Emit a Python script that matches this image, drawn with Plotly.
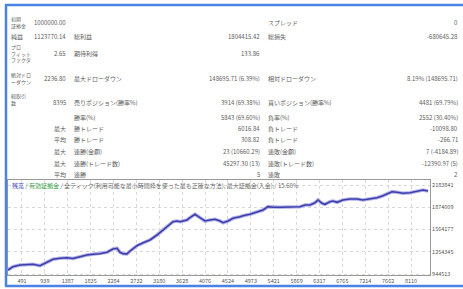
import plotly.graph_objects as go

W, H = 463, 289

# ---- data ----
trade_no = [217, 315, 452, 589, 707, 844, 981, 1098, 1235, 1372,
            1490, 1627, 1764, 1882, 2019, 2156, 2273, 2352, 2411, 2469,
            2548, 2606, 2743, 2861, 2998, 3135, 3253, 3390, 3449, 3527,
            3586, 3644, 3723, 3781, 3879, 3977, 4075, 4173, 4271, 4369,
            4428, 4526, 4624, 4761, 4819, 4957, 5094, 5211, 5309, 5407,
            5544, 5681, 5799, 5936, 6034, 6132, 6230, 6289, 6367, 6425,
            6523, 6582, 6660, 6778, 6915, 7052, 7170, 7307, 7444, 7561,
            7659, 7738, 7835, 7953, 8090, 8227, 8345, 8443]
balance = [1000000, 1046166, 1069838, 1079586, 1081000, 1060091, 1107436, 1149211, 1163136, 1171491,
           1160000, 1185416, 1209088, 1218836, 1227191, 1246686, 1292638, 1302386, 1246686, 1227191,
           1225000, 1264788, 1338591, 1380366, 1417963, 1487588, 1557213, 1636586, 1672791, 1682538,
           1672791, 1682538, 1696463, 1728491, 1775836, 1728491, 1682538, 1696463, 1706211, 1682538,
           1658866, 1682538, 1720136, 1742416, 1756341, 1775836, 1803686, 1835713, 1881666, 1873311,
           1873311, 1877488, 1881666, 1881666, 1905338, 1905338, 1937366, 1974963, 1929011, 1915086,
           1951291, 1961038, 1942936, 1974963, 1988888, 1988888, 1974963, 1988888, 2006991, 2034841,
           2068261, 2090541, 2082186, 2068261, 2076616, 2100288, 2114213, 2100288]

x_ticks = [491, 939, 1387, 1835, 2284, 2732, 3180, 3628, 4076, 4524,
           4973, 5421, 5869, 6317, 6765, 7214, 7662, 8110]
y_ticks = [944513, 1254345, 1564177, 1874009, 2183841]
x_range = [217, 8482]
y_range = [930588, 2253466]

# report table: (row y, text, column)
report_rows = [
    (22, "1000000.00", "v1"), (22, "スプレッド", "l2"), (22, "0", "v3"),
    (37, "純益", "l0"), (37, "1123770.14", "v1"), (37, "総利益", "l1"),
    (37, "1804415.42", "v2"), (37, "総損失", "l2"), (37, "-680645.28", "v3"),
    (53, "2.65", "v1"), (53, "期待利得", "l1"), (53, "133.86", "v2"),
    (78, "2236.80", "v1"), (78, "最大ドローダウン", "l1"),
    (78, "148695.71 (6.39%)", "v2"), (78, "相対ドローダウン", "l2"), (78, "8.19% (148695.71)", "v3"),
    (102, "8395", "v1"), (102, "売りポジション(勝率%)", "l1"), (102, "3914 (69.38%)", "v2"),
    (102, "買いポジション(勝率%)", "l2"), (102, "4481 (69.79%)", "v3"),
    (117, "勝率(%)", "l1"), (117, "5843 (69.60%)", "v2"), (117, "負率(%)", "l2"), (117, "2552 (30.40%)", "v3"),
    (128, "最大", "v1"), (128, "勝トレード", "l1"), (128, "6016.84", "v2"), (128, "負トレード", "l2"), (128, "-10098.80", "v3"),
    (139, "平均", "v1"), (139, "勝トレード", "l1"), (139, "308.82", "v2"), (139, "負トレード", "l2"), (139, "-266.71", "v3"),
    (151, "最大", "v1"), (151, "連勝(金額)", "l1"), (151, "23 (10660.29)", "v2"), (151, "連敗(金額)", "l2"), (151, "7 (-4184.89)", "v3"),
    (163, "最大", "v1"), (163, "連勝(トレード数)", "l1"), (163, "45297.30 (13)", "v2"), (163, "連敗(トレード数)", "l2"), (163, "-12390.97 (5)", "v3"),
    (174, "平均", "v1"), (174, "連勝", "l1"), (174, "5", "v2"), (174, "連敗", "l2"), (174, "2", "v3"),
]
stacked_labels = [(22, "初期<br>証拠金"), (53, "プロ<br>フィット<br>ファクタ"),
                  (78, "絶対ドロ<br>ーダウン"), (100, "総取引<br>数")]

legend_text = ('<span style="color:#3a48c8">残高</span> / '
               '<span style="color:#3aa04a">有効証拠金</span> / '
               '全ティック(利用可能な最小時間枠を使った最も正確な方法), 最大証拠金(入金) / 15.60%')

FONT = "Noto Sans CJK JP"
col_x = {"l0": (9, "left"), "v1": (68, "right"), "l1": (72, "left"),
         "v2": (262, "right"), "l2": (266, "left"), "v3": (460, "right")}

fig = go.Figure()
fig.add_trace(go.Scatter(x=trade_no, y=balance, mode="lines", name="有効証拠金",
                         line=dict(color="#b4b4e8", width=3.6), hoverinfo="skip"))
fig.add_trace(go.Scatter(x=trade_no, y=balance, mode="lines", name="残高",
                         line=dict(color="#3d3dab", width=1.6)))

annotations = []
for y, t, c in report_rows:
    xx, anc = col_x[c]
    annotations.append(dict(x=xx / W, y=1 - y / H, xref="paper", yref="paper", text=t,
                            xanchor=anc, yanchor="middle", showarrow=False,
                            font=dict(family=FONT, size=6, color="#606060")))
for y, t in stacked_labels:
    annotations.append(dict(x=9 / W, y=1 - y / H, xref="paper", yref="paper", text=t,
                            xanchor="left", yanchor="middle", align="left", showarrow=False,
                            font=dict(family=FONT, size=5, color="#606060")))
annotations.append(dict(x=10 / W, y=1 - 185.5 / H, xref="paper", yref="paper", text=legend_text,
                        xanchor="left", yanchor="middle", showarrow=False,
                        font=dict(family=FONT, size=6, color="#6a6a6a")))

px0, px1, py0, py1 = 8, 430, 180, 275
shapes = [
    dict(type="rect", xref="paper", yref="paper", x0=px0 / W, x1=px1 / W,
         y0=1 - 190 / H, y1=1 - 181 / H, fillcolor="white", line=dict(width=0), layer="between"),
    dict(type="line", xref="paper", yref="paper", x0=5 / W, x1=1, y0=1 - 5 / H, y1=1 - 5 / H,
         line=dict(color="#4a82e6", width=2.5)),
    dict(type="line", xref="paper", yref="paper", x0=6 / W, x1=6 / W, y0=1 - 5 / H, y1=1 - 286 / H,
         line=dict(color="#4a82e6", width=2.5)),
    dict(type="line", xref="paper", yref="paper", x0=5 / W, x1=1, y0=1 - 286 / H, y1=1 - 286 / H,
         line=dict(color="#4a82e6", width=2.5)),
]

fig.update_layout(
    width=W, height=H, margin=dict(l=0, r=0, t=0, b=0),
    paper_bgcolor="white", plot_bgcolor="white", showlegend=False,
    annotations=annotations, shapes=shapes,
    xaxis=dict(domain=[px0 / W, px1 / W], range=x_range, tickvals=x_ticks,
               ticktext=[str(v) for v in x_ticks], showgrid=True, gridcolor="#d8d8d8",
               griddash="dot", zeroline=False, showline=True, mirror=True,
               linecolor="#9a9a9a", linewidth=1, ticks="", automargin=False,
               tickfont=dict(family=FONT, size=5.5, color="#555555")),
    yaxis=dict(domain=[1 - py1 / H, 1 - py0 / H], range=y_range, side="right",
               tickvals=y_ticks, ticktext=[str(v) for v in y_ticks], showgrid=True,
               gridcolor="#d8d8d8", griddash="dot", zeroline=False, showline=True,
               mirror=True, linecolor="#9a9a9a", linewidth=1, ticks="", automargin=False,
               tickfont=dict(family=FONT, size=5.5, color="#555555")),
)

fig.write_html("out.html", config={"displayModeBar": False},
               post_script="document.body.style.margin='0';document.body.style.overflow='hidden';")
